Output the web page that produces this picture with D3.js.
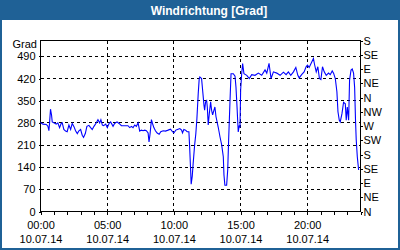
<!DOCTYPE html>
<html>
<head>
<meta charset="utf-8">
<script src="https://d3js.org/d3.v7.min.js"></script>
<style>
  body { margin: 0; background: #fff; }
  text { font-family: "Liberation Sans", Arial, sans-serif; }
</style>
</head>
<body>
<div id="chart"></div>
<script>
// wind direction over one day, hour of day -> degrees (0..540, wraps past 360)
var hours = [0.00,0.18,0.43,0.55,0.63,0.68,0.75,0.83,0.88,1.00,1.18,1.30,1.43,1.55,1.63,1.75,1.88,2.00,2.13,2.26,
  2.38,2.51,2.63,2.76,2.88,3.01,3.13,3.23,3.36,3.48,3.63,3.76,3.88,4.01,4.19,4.31,4.44,4.53,4.64,4.74,
  4.89,5.01,5.14,5.26,5.44,5.56,5.74,5.89,6.07,6.24,6.44,6.56,6.69,6.82,6.94,7.07,7.19,7.32,7.44,7.57,
  7.69,7.82,7.94,8.07,8.14,8.22,8.32,8.40,8.50,8.62,8.75,8.90,9.02,9.20,9.37,9.57,9.75,9.87,10.00,10.15,
  10.32,10.45,10.58,10.65,10.75,10.88,11.00,11.13,11.18,11.26,11.30,11.38,11.45,11.56,11.65,11.73,11.83,11.90,11.95,12.08,
  12.16,12.26,12.31,12.38,12.46,12.51,12.58,12.66,12.76,12.83,12.91,13.01,13.08,13.16,13.33,13.46,13.59,13.71,13.76,13.83,
  13.96,14.04,14.11,14.21,14.29,14.46,14.59,14.66,14.74,14.83,14.91,14.96,15.01,15.09,15.16,15.26,15.47,15.66,15.84,16.09,
  16.34,16.59,16.84,16.97,17.14,17.29,17.47,17.72,17.97,18.22,18.42,18.59,18.77,18.97,19.15,19.30,19.40,19.60,19.77,19.92,
  20.02,20.15,20.30,20.47,20.55,20.68,20.80,20.92,21.03,21.15,21.28,21.43,21.60,21.73,21.88,21.98,22.11,22.23,22.31,22.41,
  22.48,22.61,22.73,22.86,22.93,23.01,23.11,23.18,23.29,23.38,23.48,23.56,23.63,23.68,23.76,23.86];
var grad = [281,276,275,270,255,280,323,304,283,280,276,280,265,278,280,259,254,252,273,259,
  278,268,255,246,255,259,241,234,246,269,272,265,259,269,280,290,280,290,273,271,
  276,265,278,283,269,278,283,278,271,271,271,271,265,269,265,273,269,280,254,257,
  255,257,255,248,220,246,290,278,265,255,248,244,252,255,254,257,260,254,248,257,
  260,262,257,248,259,257,252,252,210,130,86,111,152,210,246,293,373,417,425,420,
  383,336,320,346,350,330,273,309,346,320,305,320,330,300,266,236,210,173,115,83,
  83,131,225,346,435,435,427,393,330,251,272,265,383,435,467,435,430,420,432,430,
  437,430,447,437,468,420,441,437,430,440,432,441,430,441,455,430,422,433,441,457,
  462,455,468,483,465,441,457,420,417,457,441,430,437,432,444,437,420,378,315,288,
  283,309,345,340,288,330,288,415,447,450,437,392,283,226,173,131];

var gradTicks = [0, 70, 140, 210, 280, 350, 420, 490];
var dirTicks = [0, 45, 90, 135, 180, 225, 270, 315, 360, 405, 450, 495, 540];
var dirLabels = ["N","NE","E","SE","S","SW","W","NW","N","NE","E","SE","S"];
var majorHours = [0, 5, 10, 15, 20];
var timeLabels = ["00:00","05:00","10:00","15:00","20:00"];
var dateLabel = "10.07.14";
var title = "Windrichtung [Grad]";
var unit = "Grad";

var W = 400, H = 250;
var blue = "#1f6196";

var svg = d3.select("#chart").append("svg")
  .attr("width", W).attr("height", H);

// frame + title bar
svg.append("rect").attr("x", 0).attr("y", 0).attr("width", W).attr("height", H).attr("fill", blue);
svg.append("rect").attr("x", 2).attr("y", 20).attr("width", W - 4).attr("height", H - 22).attr("fill", "#fff");
svg.append("text")
  .attr("x", 209).attr("y", 14.5)
  .attr("text-anchor", "middle")
  .style("font-size", "12px").style("font-weight", "bold")
  .attr("fill", "#fff")
  .text(title);

var x = d3.scaleLinear().domain([0, 24]).range([40.5, 360.5]);
var y = d3.scaleLinear().domain([0, 540]).range([211.5, 40.5]);

// grid
svg.append("g").attr("shape-rendering", "crispEdges")
  .selectAll("line").data(gradTicks.slice(1)).enter().append("line")
  .attr("x1", x(0)).attr("x2", x(24))
  .attr("y1", function(d) { return y(d); }).attr("y2", function(d) { return y(d); })
  .attr("stroke", "#000").attr("stroke-dasharray", "3,3");
svg.append("g").attr("shape-rendering", "crispEdges")
  .selectAll("line").data(majorHours.slice(1)).enter().append("line")
  .attr("x1", function(d) { return x(d); }).attr("x2", function(d) { return x(d); })
  .attr("y1", y(0)).attr("y2", y(540))
  .attr("stroke", "#000").attr("stroke-dasharray", "3,3");

// plot border
svg.append("rect")
  .attr("x", x(0)).attr("y", y(540))
  .attr("width", x(24) - x(0)).attr("height", y(0) - y(540))
  .attr("fill", "none").attr("stroke", "#000")
  .attr("shape-rendering", "crispEdges");

function styleAxis(g) {
  g.select(".domain").remove();
  g.attr("shape-rendering", "crispEdges");
  g.selectAll("text").style("font-family", '"Liberation Sans", Arial, sans-serif')
    .style("font-size", "11px").attr("fill", "#000");
}

// left axis
svg.append("g")
  .attr("transform", "translate(" + x(0) + ",0)")
  .call(d3.axisLeft(y).tickValues(gradTicks).tickSize(2).tickPadding(3))
  .call(styleAxis);
svg.append("text")
  .attr("x", 37).attr("y", 47.5)
  .attr("text-anchor", "end")
  .style("font-size", "11px")
  .text(unit);

// right axis (compass)
svg.append("g")
  .attr("transform", "translate(" + x(24) + ",0)")
  .call(d3.axisRight(y).tickValues(dirTicks).tickSize(2).tickPadding(1)
    .tickFormat(function(d, i) { return dirLabels[i]; }))
  .call(styleAxis);

// bottom axis: hourly ticks
svg.append("g")
  .attr("transform", "translate(0," + y(0) + ")")
  .call(d3.axisBottom(x).tickValues(d3.range(0, 25)).tickSize(3).tickFormat(""))
  .call(styleAxis);

// bottom labels: time + date
var lab = svg.append("g")
  .attr("transform", "translate(0," + y(0) + ")")
  .call(d3.axisBottom(x).tickValues(majorHours).tickSize(0).tickPadding(0)
    .tickFormat(function(d, i) { return timeLabels[i]; }))
  .call(styleAxis);
lab.selectAll("text").attr("dy", null).attr("y", 17)
  .each(function() {
    d3.select(this).append("tspan").attr("x", 0).attr("dy", 14).text(dateLabel);
  });

// the series
var pts = hours.map(function(h, i) { return [h, grad[i]]; });
svg.append("path")
  .datum(pts)
  .attr("fill", "none")
  .attr("stroke", "#0000ff")
  .attr("stroke-width", 1.1)
  .attr("d", d3.line().x(function(d) { return x(d[0]); }).y(function(d) { return y(d[1]); }));
</script>
</body>
</html>
